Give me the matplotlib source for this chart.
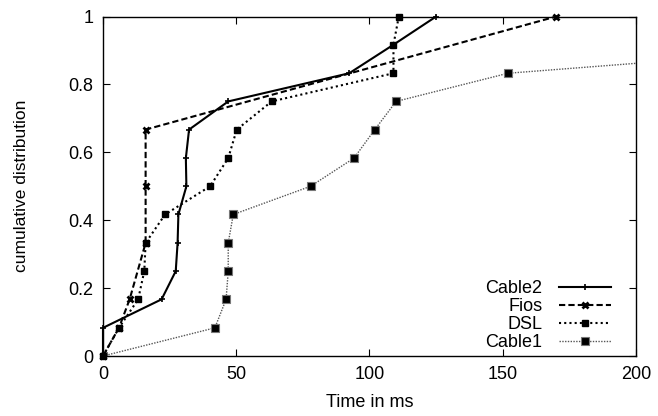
#!/usr/bin/env python3

import matplotlib.pyplot as plt
from matplotlib.ticker import FormatStrFormatter

plt.rcParams['font.family'] = ['Liberation Sans', 'DejaVu Sans']
plt.rcParams['font.size'] = 13

# CDF of latency per access link (ms, cumulative fraction)
cable2_x = [0, 0, 22, 27.3, 28, 28.3, 31.3, 31.1, 32.3, 47, 92.4, 109, 125]
cable2_y = [0, 0.083, 0.167, 0.25, 0.333, 0.417, 0.5, 0.583, 0.667, 0.75, 0.833, 0.917, 1.0]

fios_x = [0, 6, 10, 16, 16, 16, 170]
fios_y = [0, 0.083, 0.167, 0.333, 0.5, 0.667, 1.0]

dsl_x = [0, 6, 13.2, 15.5, 16, 23.3, 40.2, 47, 50.2, 63.3, 109, 109, 111]
dsl_y = [0, 0.083, 0.167, 0.25, 0.333, 0.417, 0.5, 0.583, 0.667, 0.75, 0.833, 0.917, 1.0]

cable1_x = [0, 42, 46.2, 47, 47, 48.9, 77.9, 94.2, 102, 110, 152, 290, 400]
cable1_y = [0, 0.083, 0.167, 0.25, 0.333, 0.417, 0.5, 0.583, 0.667, 0.75, 0.833, 0.917, 1.0]

fig = plt.figure(figsize=(6.58, 4.16), dpi=100)
ax = fig.add_axes([0.1565, 0.1442, 0.81, 0.816])

ax.plot(cable2_x, cable2_y, color='black', lw=1.5, ls='-',
        marker='+', ms=5, mew=1.2, label='Cable2', clip_on=False, zorder=4)
ax.plot(fios_x, fios_y, color='black', lw=1.5, ls=(0, (3, 1.5)),
        marker='x', ms=5, mew=2, label='Fios', clip_on=False, zorder=3)
ax.plot(dsl_x, dsl_y, color='black', lw=1.5, ls=(0, (1, 1.5)),
        marker='s', ms=4, mfc='black', mec='black', label='DSL', clip_on=False, zorder=3)
ax.plot(cable1_x, cable1_y, color='#555555', lw=1.0, ls=(0, (1, 1)),
        marker='s', ms=6, mfc='black', mec='#777777', mew=0.8, label='Cable1', zorder=2)

ax.set_xlim(0, 200)
ax.set_ylim(0, 1)
ax.set_xticks([0, 50, 100, 150, 200])
ax.set_yticks([0, 0.2, 0.4, 0.6, 0.8, 1.0])
ax.yaxis.set_major_formatter(FormatStrFormatter('%g'))
ax.tick_params(direction='in', top=True, right=True, length=5, width=0.8, pad=7)
for s in ax.spines.values():
    s.set_linewidth(1.0)

ax.set_xlabel('Time in ms', labelpad=8)
ax.set_ylabel('cumulative distribution', fontsize=12.5, labelpad=28)

ax.legend(loc='lower right', frameon=False, markerfirst=False, handlelength=2.9,
          labelspacing=0.05, borderaxespad=0, borderpad=0, handletextpad=0.9,
          fontsize=13, bbox_to_anchor=(0.953, 0.015))

plt.savefig('out.png')
